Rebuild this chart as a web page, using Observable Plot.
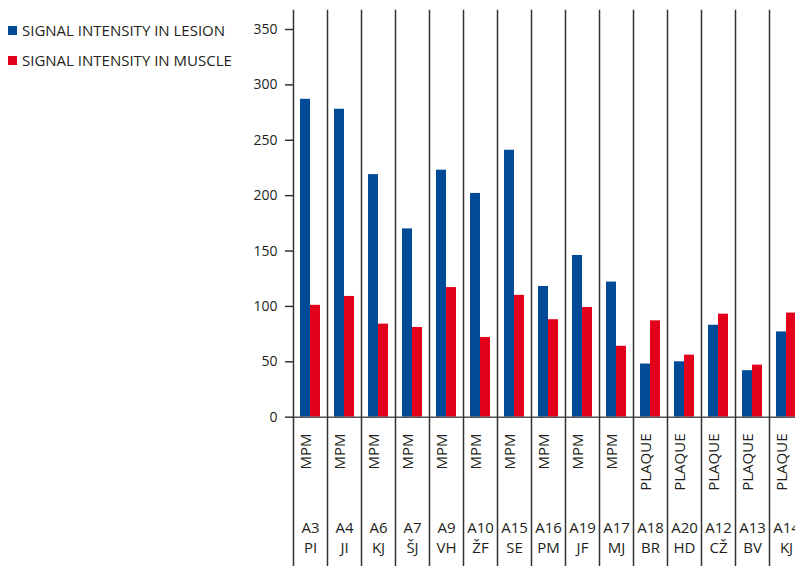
<!DOCTYPE html>
<html>
<head>
<meta charset="utf-8">
<script src="https://cdn.jsdelivr.net/npm/d3@7"></script>
<script src="https://cdn.jsdelivr.net/npm/@observablehq/plot@0.6"></script>
<style>
  html, body { margin: 0; padding: 0; background: #fff; }
  #wrap { position: relative; width: 795px; height: 566px; overflow: hidden; font-family: "Open Sans", sans-serif; }
  #chart { width: 803px; }
  #chart svg { max-width: none !important; display: block; }
  #legend { position: absolute; left: 8px; top: 20px; font-size: 15px; color: #231f20; }
  #legend div { display: flex; align-items: center; height: 20px; margin-bottom: 10px; white-space: nowrap; }
  #legend span.sw { display: inline-block; width: 9px; height: 9px; margin-right: 5px; }
</style>
</head>
<body>
<div id="wrap"><div id="chart"></div><div id="legend"></div></div>
<script>
const ids = ["A3","A4","A6","A7","A9","A10","A15","A16","A19","A17","A18","A20","A12","A13","A14"];
const initials = ["PI","JI","KJ","ŠJ","VH","ŽF","SE","PM","JF","MJ","BR","HD","CŽ","BV","KJ"];
const types = ["MPM","MPM","MPM","MPM","MPM","MPM","MPM","MPM","MPM","MPM","PLAQUE","PLAQUE","PLAQUE","PLAQUE","PLAQUE"];
const lesion = [287, 278, 219, 170, 223, 202, 241, 118, 146, 122, 48, 50, 83, 42, 77];
const muscle = [101, 109, 84, 81, 117, 72, 110, 88, 99, 64, 87, 56, 93, 47, 94];
const seriesNames = ["SIGNAL INTENSITY IN LESION", "SIGNAL INTENSITY IN MUSCLE"];
const seriesColors = ["#004a98", "#e2001a"];
const yTicks = [0, 50, 100, 150, 200, 250, 300, 350];

const bars = [];
ids.forEach((id, i) => {
  bars.push({id, series: seriesNames[0], value: lesion[i]});
  bars.push({id, series: seriesNames[1], value: muscle[i]});
});
const cats = ids.map((id, i) => ({id, label: id + "\n" + initials[i], type: types[i]}));

const chart = Plot.plot({
  width: 803,
  height: 566,
  marginLeft: 293,
  marginRight: 0,
  marginTop: 10,
  marginBottom: 0,
  style: {fontFamily: "Open Sans, sans-serif", fontSize: "14px", color: "#231f20", background: "#fff", maxWidth: "none"},
  fx: {domain: ids, padding: 0, axis: null, round: false},
  x: {domain: seriesNames, paddingInner: 0, paddingOuter: 0.7, axis: null, round: false},
  y: {domain: [0, 350], range: [416.7, 29], axis: null},
  color: {domain: seriesNames, range: seriesColors},
  marks: [
    Plot.barY(bars, {fx: "id", x: "series", y: "value", fill: "series"}),
    Plot.ruleY([0], {stroke: "#555", strokeWidth: 1.5}),
    Plot.frame({anchor: "left", stroke: "#333", strokeWidth: 1.5}),
    Plot.axisY({ticks: yTicks, tickSize: 8, tickPadding: 8, label: null, stroke: "#333", strokeWidth: 1.5, fontSize: 14}),
    Plot.text(cats, {fx: "id", text: "type", frameAnchor: "bottom", rotate: -90, textAnchor: "end", dy: -133, fontSize: 15, fill: "#231f20"}),
    Plot.text(cats, {fx: "id", text: "label", frameAnchor: "bottom", lineAnchor: "bottom", lineHeight: 1.3, dy: -14, fontSize: 15, fill: "#231f20"})
  ]
});
document.getElementById("chart").appendChild(chart);

const legend = document.getElementById("legend");
seriesNames.forEach((name, i) => {
  const row = document.createElement("div");
  const sw = document.createElement("span");
  sw.className = "sw";
  sw.style.background = seriesColors[i];
  row.appendChild(sw);
  row.appendChild(document.createTextNode(name));
  legend.appendChild(row);
});
</script>
</body>
</html>
